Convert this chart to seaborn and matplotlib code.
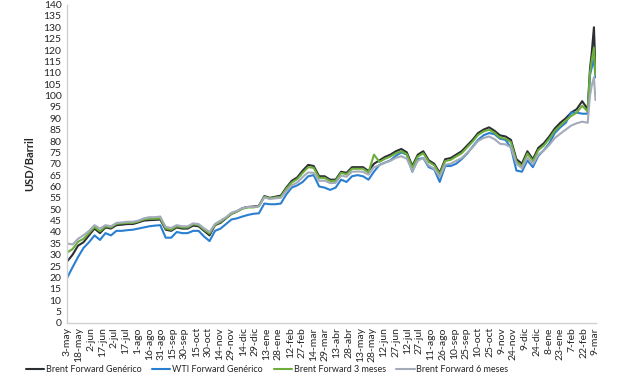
import pandas as pd
import numpy as np
import matplotlib
matplotlib.use('Agg')
import matplotlib.pyplot as plt
import seaborn as sns

# Weekly readings (Sundays from 3-may-2020 to 27-feb-2022) plus the March 2022 spike
spike_dates = ['2022-03-02', '2022-03-04', '2022-03-07', '2022-03-09']

brent_generico = [
    # 2020
    27, 30, 34, 35.5, 38.5, 41.5, 39.5, 42, 41.5, 43, 43.2, 43.5, 43.5,
    44.2, 45, 45.2, 45.3, 45.5, 41, 40.5, 42, 41.5, 41.5, 42.8, 42.5, 40.5,
    38.5, 43, 44, 46, 48, 49, 50.5, 51, 51.2,
    # 2021
    51.5, 55.8, 55, 55.5, 56, 59.5, 62.5, 64, 67, 69.5, 69, 64.5, 64.5,
    63, 63, 66.5, 66, 68.5, 68.5, 68.5, 66.8, 70, 71.5, 73, 74, 75.5,
    76.5, 75, 69, 74, 75.5, 71.5, 70, 66, 72, 72.5, 74, 75.5, 78,
    80.5, 83.5, 85, 86, 84.5, 82.5, 82, 80.5, 72, 70, 75.5, 72, 77,
    # 2022
    79, 82, 85.5, 88, 90, 92.5, 94, 97.5, 94,
    # spike
    112, 118, 130, 111,
]

wti_generico = [
    19.8, 24.5, 29, 33, 35.5, 38.5, 36.5, 39.5, 38.5, 40.5, 40.5, 40.8, 41,
    41.5, 42, 42.5, 42.8, 43, 37.5, 37.5, 40, 39.5, 39.5, 40.5, 40.5, 38,
    36, 40.5, 41.5, 43.5, 45.5, 46, 46.8, 47.5, 48,
    48.2, 52.5, 52.2, 52.2, 52.5, 56.5, 59.5, 60.5, 62, 64.5, 65, 60, 59.5,
    58.5, 59.5, 63, 62, 64.5, 65, 64.5, 63, 66.5, 69.5, 70.5, 71.5, 73.5,
    75, 74, 66.5, 72, 72.5, 68.5, 67.5, 62, 69, 69, 70, 72, 74.5,
    77.5, 80.5, 82.5, 83.5, 83, 81, 80.5, 77, 67, 66.5, 71.5, 68.5, 73.5,
    76, 79, 83.5, 86, 88, 92.5, 92.5, 92, 92,
    109, 112, 116, 108,
]

brent_3m = [
    31, 32.5, 35.7, 37, 39.5, 42.2, 40.3, 42.5, 42, 43.6, 43.8, 44, 44,
    44.6, 45.5, 45.8, 45.8, 46, 41.5, 41, 42.5, 42, 42, 43.4, 43, 41,
    39.3, 43.2, 44.4, 46.2, 48, 49, 50.2, 50.8, 50.8,
    51.3, 55.5, 54.8, 55.2, 55.5, 59, 61.8, 63.3, 66, 68.5, 68.2, 63.8, 63.8,
    62.4, 62.5, 66, 65.4, 67.8, 67.8, 67.8, 66.2, 74, 70.8, 72.2, 73.2, 74.6,
    75.5, 74.2, 68.3, 73.2, 74.6, 70.8, 69.3, 65.4, 71.2, 71.7, 73.2, 74.6, 77.2,
    79.7, 82.7, 84.2, 85, 83.6, 81.5, 81, 79.5, 71, 69, 74.5, 71.2, 76,
    78, 81, 84.5, 86.8, 89, 91, 92.5, 95.5, 93,
    110, 115, 121, 109,
]

brent_6m = [
    35, 34.5, 37, 38.6, 40.5, 43, 41.5, 43, 42.5, 44, 44.2, 44.5, 44.5,
    45, 46, 46.5, 46.5, 46.8, 42.2, 41.8, 43, 42.5, 42.5, 43.8, 43.5, 41.6,
    40, 43.6, 45, 46.5, 48.5, 49.3, 50.5, 51, 51,
    51.3, 55.2, 54.5, 54.8, 55, 58, 60.5, 61.8, 64.2, 66.2, 66, 62.5, 62.6,
    61.5, 61.6, 64.8, 64.3, 66.5, 66.6, 66.5, 65.2, 68.5, 69.3, 70.5, 71.3, 72.6,
    73.3, 72.2, 66.8, 71.3, 72.6, 69.2, 67.8, 64.2, 69.6, 70, 71.3, 72.5, 74.8,
    77.2, 80, 81.3, 82, 80.8, 78.8, 78.5, 77.2, 70, 68, 72.8, 69.8, 74,
    75.8, 78.3, 81.3, 83.2, 85, 86.8, 87.8, 88.5, 88,
    100, 104, 108, 98,
]

series_names = ['Brent Forward Genérico', 'WTI Forward Genérico',
                'Brent Forward 3 meses', 'Brent Forward 6 meses']
colors = ['#2b2f33', '#2a7fd0', '#6cad3c', '#a3abb9']
meses = ['ene', 'feb', 'mar', 'abr', 'may', 'jun',
         'jul', 'ago', 'sep', 'oct', 'nov', 'dic']

# build long-form table
fechas = list(pd.date_range('2020-05-03', '2022-02-27', freq='7D')) + list(pd.to_datetime(spike_dates))
frames = []
for name, vals in zip(series_names, [brent_generico, wti_generico, brent_3m, brent_6m]):
    frames.append(pd.DataFrame({'fecha': fechas, 'valor': vals, 'serie': name}))
df = pd.concat(frames, ignore_index=True)

sns.set_style('white')
plt.rcParams['font.family'] = ['Lato', 'DejaVu Sans']

fig = plt.figure(figsize=(6.27, 3.76), dpi=100)
ax = fig.add_axes([0.107, 0.141, 0.844, 0.847])

sns.lineplot(data=df, x='fecha', y='valor', hue='serie', hue_order=series_names,
             palette=dict(zip(series_names, colors)), linewidth=1.5, ax=ax)

# x ticks every 15 days
ticks = pd.date_range('2020-05-03', '2022-03-09', freq='15D')
ax.set_xticks(ticks)
ax.set_xticklabels([f'{d.day}-{meses[d.month - 1]}' for d in ticks], rotation=90, fontsize=7.5)
ax.set_xlim(pd.Timestamp('2020-05-03'), pd.Timestamp('2022-03-10'))

ax.set_ylim(0, 140)
ax.set_yticks(np.arange(0, 141, 5))
ax.tick_params(axis='y', labelsize=7.5, length=0, pad=4)
ax.tick_params(axis='x', length=0, pad=3)
ax.set_xlabel('')
ax.set_ylabel('USD/Barril', fontsize=8, fontweight='bold', labelpad=6)

for side in ['top', 'right']:
    ax.spines[side].set_visible(False)
for side in ['left', 'bottom']:
    ax.spines[side].set_color('#d0d0d0')
    ax.spines[side].set_linewidth(1)

handles, labels = ax.get_legend_handles_labels()
ax.get_legend().remove()
fig.legend(handles, labels, loc='center', bbox_to_anchor=(0.426, 0.017), ncol=4,
           frameon=False, fontsize=6.5, handlelength=2.0, handletextpad=0.2,
           columnspacing=1.2, borderpad=0.1)

fig.savefig('out.png', dpi=100)
